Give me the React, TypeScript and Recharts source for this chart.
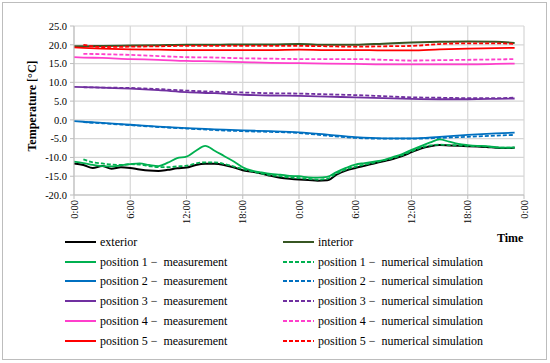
import React from 'react';
import { LineChart, Line, XAxis, YAxis, CartesianGrid } from 'recharts';

// hourly series (hours 0..47)
const hoursFine = [0,1,2,3,4,5,6,7,8,9,10,11,12,13,14,15,16,17,18,19,20,21,22,23,24,25,26,27,28,29,30,31,32,33,34,35,36,37,38,39,40,41,42,43,44,45,46,47];
const exterior = [-11.6,-12.0,-12.8,-12.3,-13.0,-12.6,-12.8,-13.2,-13.5,-13.6,-13.3,-12.9,-12.7,-12.0,-11.7,-11.7,-12.0,-12.6,-13.4,-13.8,-14.3,-14.9,-15.4,-15.7,-15.9,-16.0,-16.2,-16.1,-14.6,-13.5,-12.8,-12.2,-11.6,-11.0,-10.4,-9.6,-8.6,-7.6,-7.0,-6.7,-6.8,-6.9,-7.0,-7.1,-7.2,-7.4,-7.5,-7.4];
const pos1Meas = [-11.1,-11.5,-12.0,-12.3,-12.4,-12.1,-11.8,-11.6,-12.0,-12.3,-11.4,-10.2,-9.8,-8.2,-6.9,-8.2,-9.6,-11.0,-12.6,-13.5,-14.0,-14.4,-14.6,-14.9,-15.0,-15.3,-15.4,-15.2,-13.9,-12.8,-11.9,-11.5,-11.1,-10.7,-9.9,-9.1,-8.0,-7.0,-6.0,-5.2,-5.8,-6.4,-6.7,-6.9,-7.0,-7.3,-7.4,-7.3];
const pos1Sim = [null,-10.5,-11.3,-11.6,-11.9,-12.0,-11.8,-11.9,-12.3,-12.6,-12.6,-12.4,-12.2,-11.6,-11.3,-11.3,-11.7,-12.4,-13.1,-13.7,-14.3,-14.7,-15.0,-15.3,-15.5,-15.7,-15.9,-15.7,-14.3,-13.2,-12.5,-11.9,-11.4,-10.8,-10.2,-9.4,-8.4,-7.4,-6.8,-6.6,-6.7,-6.8,-6.9,-7.0,-7.1,-7.3,-7.4,-7.4];

// slowly varying series
const hoursCoarse = [0,1,3,6,9,12,15,18,21,24,27,30,33,36,39,42,45,47];
const interior = [19.6,19.6,19.7,19.8,19.9,20.0,20.0,20.1,20.1,20.2,20.0,20.0,20.3,20.6,20.8,20.9,20.8,20.5];
const pos2Meas = [-0.3,-0.5,-0.8,-1.3,-1.8,-2.2,-2.5,-2.8,-3.0,-3.3,-3.9,-4.6,-4.9,-4.9,-4.5,-4.0,-3.6,-3.4];
const pos2Sim = [null,-0.6,-0.9,-1.4,-1.9,-2.3,-2.7,-3.0,-3.2,-3.5,-4.2,-4.8,-5.0,-5.0,-4.8,-4.5,-4.2,-4.0];
const pos3Meas = [8.8,8.7,8.6,8.3,7.9,7.4,7.1,6.7,6.5,6.4,6.2,6.0,5.8,5.6,5.5,5.5,5.6,5.7];
const pos3Sim = [null,8.7,8.6,8.5,8.2,7.8,7.5,7.3,7.1,7.0,6.8,6.6,6.3,6.0,5.9,5.8,5.8,5.9];
const pos4Meas = [16.7,16.6,16.5,16.2,16.0,15.7,15.6,15.4,15.2,15.1,15.0,14.9,14.8,14.8,14.8,14.8,14.9,15.0];
const pos4Sim = [null,17.6,17.5,17.3,17.0,16.7,16.6,16.4,16.3,16.2,16.2,16.2,16.0,15.8,15.9,16.0,16.1,16.2];
const pos5Meas = [19.3,19.2,19.0,18.8,18.7,18.6,18.6,18.6,18.6,18.7,18.6,18.6,18.5,18.5,18.8,19.0,19.1,19.2];
const pos5Sim = [null,20.0,19.4,19.5,19.6,19.7,19.7,19.7,19.7,19.7,19.6,19.5,19.6,19.7,20.2,20.4,20.4,20.2];

const xTicks = [0,6,12,18,24,30,36,42,48];
const yTicks = [-20,-15,-10,-5,0,5,10,15,20,25];

const fineRows = hoursFine.map((h, i) => ({ h, exterior: exterior[i], pos1Meas: pos1Meas[i], pos1Sim: pos1Sim[i] }));
const coarseRows = hoursCoarse.map((h, i) => ({
  h, interior: interior[i], pos2Meas: pos2Meas[i], pos2Sim: pos2Sim[i], pos3Meas: pos3Meas[i], pos3Sim: pos3Sim[i],
  pos4Meas: pos4Meas[i], pos4Sim: pos4Sim[i], pos5Meas: pos5Meas[i], pos5Sim: pos5Sim[i],
}));

const C = { black: '#000000', interior: '#375623', green: '#00b050', blue: '#0070c0', purple: '#7030a0', pink: '#ff3fcc', red: '#ff0000' };
const FONT = '"Liberation Serif", "Times New Roman", serif';

const legendLeft = [
  { label: 'exterior', color: C.black, dash: false },
  { label: 'position 1 −  measurement', color: C.green, dash: false },
  { label: 'position 2 −  measurement', color: C.blue, dash: false },
  { label: 'position 3 −  measurement', color: C.purple, dash: false },
  { label: 'position 4 −  measurement', color: C.pink, dash: false },
  { label: 'position 5 −  measurement', color: C.red, dash: false },
];
const legendRight = [
  { label: 'interior', color: C.interior, dash: false },
  { label: 'position 1 −  numerical simulation', color: C.green, dash: true },
  { label: 'position 2 −  numerical simulation', color: C.blue, dash: true },
  { label: 'position 3 −  numerical simulation', color: C.purple, dash: true },
  { label: 'position 4 −  numerical simulation', color: C.pink, dash: true },
  { label: 'position 5 −  numerical simulation', color: C.red, dash: true },
];

const XTick = (props: any) => {
  const { x, y, payload } = props;
  const label = `${payload.value % 24}:00`;
  return (
    <text x={x} y={y} transform={`rotate(-90, ${x}, ${y})`} textAnchor="end" dy="0.35em"
      fontFamily={FONT} fontSize={10.5} fill="#000">{label}</text>
  );
};

function LegendItem({ item, x, y }: any) {
  return (
    <div style={{ position: 'absolute', left: x, top: y - 8, height: 16, display: 'flex', alignItems: 'center', whiteSpace: 'pre', fontFamily: FONT, fontSize: 12, color: '#000' }}>
      <svg width={32} height={16} style={{ display: 'block' }}>
        <line x1={0} x2={31} y1={8} y2={8} stroke={item.color} strokeWidth={2} strokeDasharray={item.dash ? '4 2' : undefined} />
      </svg>
      <span style={{ marginLeft: 3, lineHeight: '16px' }}>{item.label}</span>
    </div>
  );
}

export default function App() {
  const rowY = (i: number) => 241.7 + i * 19.85;
  return (
    <div style={{ position: 'fixed', left: 0, top: 0, width: 550, height: 363, background: '#fff', overflow: 'hidden' }}>
      <div style={{ position: 'absolute', left: 2, top: 2, width: 545, height: 358, border: '1.5px solid #bdbdbd', boxSizing: 'border-box' }} />
      <div style={{ position: 'absolute', left: 0, top: 0 }}>
        <LineChart width={550} height={363} margin={{ top: 26, right: 26, bottom: 138, left: 0 }}>
          <CartesianGrid stroke="#d6d6d6" strokeWidth={1.2} />
          <XAxis dataKey="h" type="number" domain={[0, 48]} ticks={xTicks} height={30} tick={<XTick />}
            tickSize={4} tickMargin={1} stroke="#bdbdbd" interval={0} allowDuplicatedCategory={false} />
          <YAxis type="number" domain={[-20, 25]} ticks={yTicks} width={74} tickSize={4} tickMargin={3} interval={0}
            stroke="#bdbdbd" tickFormatter={(v: number) => v.toFixed(1)}
            tick={{ fill: '#000', fontFamily: FONT, fontSize: 10.5 }} />
          <Line data={coarseRows} dataKey="interior" type="monotone" stroke={C.interior} strokeWidth={2} dot={false} isAnimationActive={false} />
          <Line data={coarseRows} dataKey="pos5Meas" type="monotone" stroke={C.red} strokeWidth={1.8} dot={false} isAnimationActive={false} />
          <Line data={coarseRows} dataKey="pos5Sim" type="monotone" stroke={C.red} strokeWidth={1.8} strokeDasharray="4 2" dot={false} isAnimationActive={false} />
          <Line data={coarseRows} dataKey="pos4Meas" type="monotone" stroke={C.pink} strokeWidth={1.8} dot={false} isAnimationActive={false} />
          <Line data={coarseRows} dataKey="pos4Sim" type="monotone" stroke={C.pink} strokeWidth={1.8} strokeDasharray="4 2" dot={false} isAnimationActive={false} />
          <Line data={coarseRows} dataKey="pos3Meas" type="monotone" stroke={C.purple} strokeWidth={1.8} dot={false} isAnimationActive={false} />
          <Line data={coarseRows} dataKey="pos3Sim" type="monotone" stroke={C.purple} strokeWidth={1.8} strokeDasharray="4 2" dot={false} isAnimationActive={false} />
          <Line data={coarseRows} dataKey="pos2Meas" type="monotone" stroke={C.blue} strokeWidth={1.8} dot={false} isAnimationActive={false} />
          <Line data={coarseRows} dataKey="pos2Sim" type="monotone" stroke={C.blue} strokeWidth={1.8} strokeDasharray="4 2" dot={false} isAnimationActive={false} />
          <Line data={fineRows} dataKey="exterior" type="monotone" stroke={C.black} strokeWidth={2} dot={false} isAnimationActive={false} />
          <Line data={fineRows} dataKey="pos1Meas" type="monotone" stroke={C.green} strokeWidth={1.8} dot={false} isAnimationActive={false} />
          <Line data={fineRows} dataKey="pos1Sim" type="monotone" stroke={C.green} strokeWidth={1.8} strokeDasharray="4 2" dot={false} isAnimationActive={false} />
        </LineChart>
      </div>
      <div style={{ position: 'absolute', left: 31.5, top: 106, transform: 'translate(-50%, -50%) rotate(-90deg)', whiteSpace: 'nowrap', fontFamily: FONT, fontSize: 12, fontWeight: 'bold', color: '#000' }}>
        Temperature [°C]
      </div>
      <div style={{ position: 'absolute', left: 497, top: 231, lineHeight: '14px', fontFamily: FONT, fontSize: 12, fontWeight: 'bold', color: '#000' }}>Time</div>
      {legendLeft.map((it, i) => <LegendItem key={'l' + i} item={it} x={65} y={rowY(i)} />)}
      {legendRight.map((it, i) => <LegendItem key={'r' + i} item={it} x={283} y={rowY(i)} />)}
    </div>
  );
}
